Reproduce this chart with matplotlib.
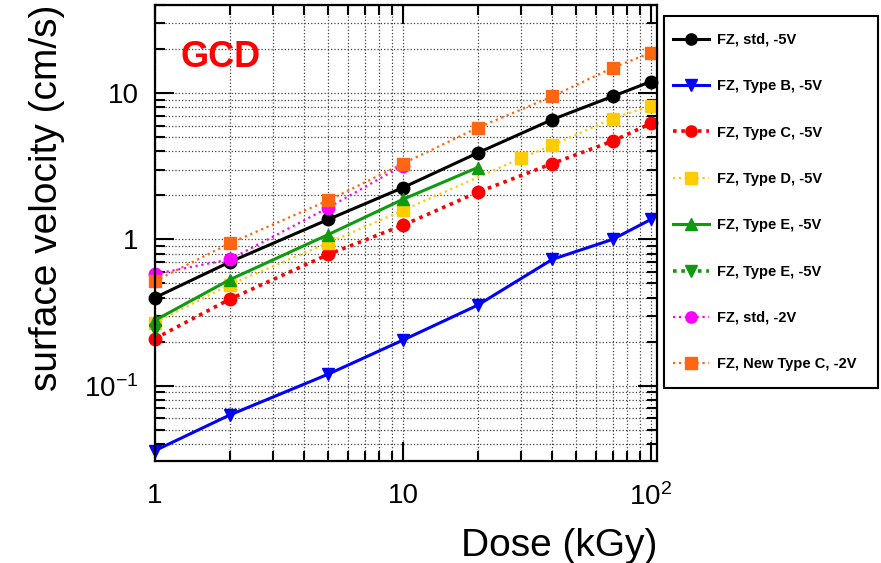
import numpy as np
import matplotlib.pyplot as plt
from matplotlib.patches import Rectangle
from matplotlib.ticker import FixedLocator, FixedFormatter, LogLocator, NullFormatter

plt.rcParams['font.family'] = ['Liberation Sans', 'DejaVu Sans']
plt.rcParams['mathtext.default'] = 'regular'

# surface velocity (cm/s) vs dose (kGy)
dose_std = [1, 2, 5, 10, 20, 40, 70, 100]
v_std = [0.40, 0.70, 1.37, 2.26, 3.9, 6.6, 9.5, 12.0]

dose_b = [1, 2, 5, 10, 20, 40, 70, 100]
v_b = [0.036, 0.063, 0.12, 0.205, 0.355, 0.73, 1.0, 1.37]

dose_c = [1, 2, 5, 10, 20, 40, 70, 100]
v_c = [0.21, 0.39, 0.79, 1.25, 2.1, 3.3, 4.7, 6.2]

dose_d = [1, 2, 5, 10, 30, 40, 70, 100]
v_d = [0.27, 0.49, 0.95, 1.58, 3.6, 4.4, 6.7, 8.2]

dose_e = [1, 2, 5, 10, 20]
v_e = [0.28, 0.53, 1.08, 1.88, 3.1]

dose_e2 = [1]
v_e2 = [0.24]

dose_std2 = [1, 2, 5, 10]
v_std2 = [0.58, 0.73, 1.65, 3.2]

dose_newc = [1, 2, 5, 10, 20, 40, 70, 100]
v_newc = [0.52, 0.94, 1.85, 3.3, 5.8, 9.5, 14.9, 18.9]

fig = plt.figure(figsize=(8.81, 5.63), dpi=100)
ax = fig.add_axes([0.176, 0.181, 0.570, 0.810])

kw = dict(clip_on=False, markersize=9)
ax.plot(dose_std, v_std, '-', color='black', lw=2.2, marker='o', label='FZ, std, -5V', **kw)
ax.plot(dose_b, v_b, '-', color='#0000ff', lw=2.2, marker='v', label='FZ, Type B, -5V', **kw)
ax.plot(dose_c, v_c, color='#ff0000', lw=2.6, ls=(0, (1, 1.3)), marker='o', label='FZ, Type C, -5V', **kw)
ax.plot(dose_d, v_d, color='#ffcc00', lw=1.6, ls=':', marker='s', label='FZ, Type D, -5V', **kw)
ax.plot(dose_e, v_e, '-', color='#109a10', lw=2.2, marker='^', label='FZ, Type E, -5V', **kw)
ax.plot(dose_e2, v_e2, color='#109a10', lw=2.6, ls=(0, (1, 1.3)), marker='v', label='FZ, Type E, -5V', **kw)
ax.plot(dose_std2, v_std2, color='#ff00ff', lw=1.6, ls=':', marker='o', label='FZ, std, -2V', **kw)
ax.plot(dose_newc, v_newc, color='#ff6611', lw=1.6, ls=':', marker='s', label='FZ, New Type C, -2V', **kw)

ax.set_xscale('log')
ax.set_yscale('log')
ax.set_xlim(1, 106)
ax.set_ylim(0.0305, 40)

ax.xaxis.set_major_locator(FixedLocator([1, 10, 100]))
ax.xaxis.set_major_formatter(FixedFormatter(['1', '10', '$10^2$']))
ax.yaxis.set_major_locator(FixedLocator([0.1, 1, 10]))
ax.yaxis.set_major_formatter(FixedFormatter(['$10^{-1}$', '1', '10']))
for axis in (ax.xaxis, ax.yaxis):
    axis.set_minor_locator(LogLocator(base=10, subs=np.arange(2, 10)))
    axis.set_minor_formatter(NullFormatter())

ax.tick_params(which='both', direction='in', top=True, right=True, width=1.5)
ax.tick_params(which='major', length=14)
ax.tick_params(which='minor', length=7)
ax.tick_params(axis='x', which='major', labelsize=20, pad=16)
ax.tick_params(axis='y', which='major', labelsize=20, pad=12)
for s in ax.spines.values():
    s.set_linewidth(1.6)

ax.grid(True, which='both', ls=':', color='0.25', lw=0.9)

ax.set_xlabel('Dose (kGy)', fontsize=28, loc='right', labelpad=12)
ax.set_ylabel('surface velocity (cm/s)', fontsize=28, loc='top', labelpad=14)

ax.text(0.05, 0.886, 'GCD', transform=ax.transAxes, color='#ff0000',
        fontsize=26, fontweight='bold', va='center', ha='left')

# legend box drawn separately so its size can be set exactly
fig.patches.append(Rectangle((664 / 881, 1 - 388 / 563), 214 / 881, 372 / 563,
                             transform=fig.transFigure, facecolor='white',
                             edgecolor='black', linewidth=1.5, zorder=0))
leg = fig.legend(loc='upper left', bbox_to_anchor=(664 / 881, 1 - 24 / 563),
                 bbox_transform=fig.transFigure, borderaxespad=0,
                 prop={'size': 10.5, 'weight': 'bold'}, labelspacing=2.22,
                 handlelength=2.5, handletextpad=0.55, borderpad=0.6,
                 frameon=False, markerscale=0.9)

fig.savefig('out.png', dpi=100)
